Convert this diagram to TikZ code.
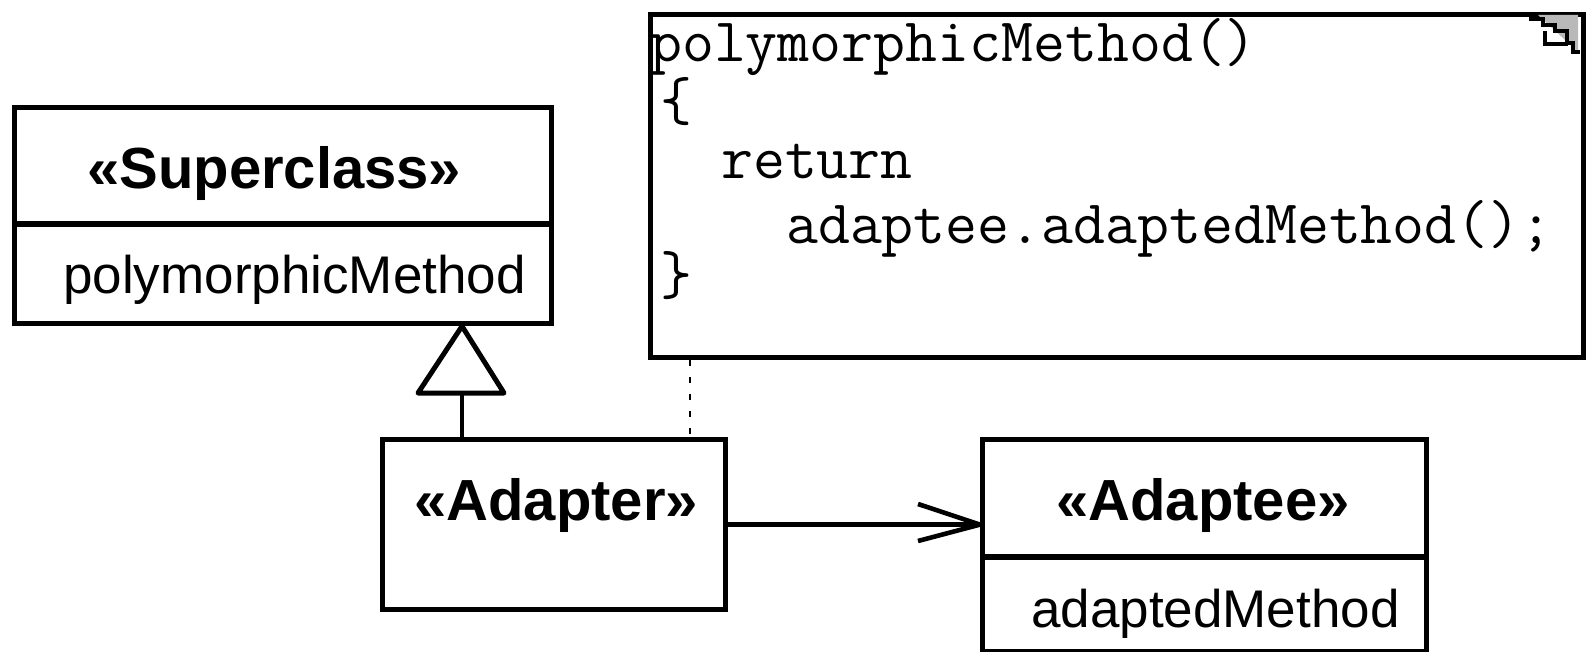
\documentclass[tikz,border=0pt]{standalone}
\usepackage{fontspec}
\setmainfont{Liberation Sans}
\begin{document}
\begin{tikzpicture}[x=1pt,y=-1pt,
  box/.style={draw, line width=5.2pt, rectangle, inner sep=0pt, anchor=north west},
  boldtxt/.style={font=\fontsize{58}{60}\selectfont\bfseries, anchor=base west, inner sep=0pt},
  regtxt/.style={font=\fontsize{53}{56}\selectfont, anchor=base west, inner sep=0pt},
  codetxt/.style={font=\fontsize{62}{64}\selectfont\ttfamily, anchor=base west, inner sep=0pt},
  ln/.style={line width=4.6pt},
  dashln/.style={line width=1.2pt, dash pattern=on 6pt off 11pt}]
\useasboundingbox (0,0) rectangle (1591,652);

% class boxes
\node[box, minimum width=537pt, minimum height=216pt] (sup) at (12,105) {};
\draw[line width=5.2pt] (12,224) -- (549,224);
\node[box, minimum width=343pt, minimum height=170pt] (adapter) at (380,437) {};
\node[box, minimum width=444pt, minimum height=212pt] (adaptee) at (980,437) {};
\draw[line width=5.2pt] (980,557) -- (1424,557);

% note
\node[box, minimum width=933pt, minimum height=343pt] (note) at (648,12) {};
\fill[gray!55] (1538,15) -- (1578,15) -- (1578,52) -- cycle;
\draw[line width=4.5pt, line join=miter]
  (1531,12) -- (1531,19) -- (1543,19) -- (1543,25) -- (1555,25) -- (1555,31)
  -- (1567,31) -- (1567,43) -- (1573,43) -- (1573,52) -- (1580,52);
\draw[line width=4.5pt] (1545,31) -- (1545,44) -- (1568,44);

% texts
\node[boldtxt] (supt) at (87,189) {«Superclass»};
\node[regtxt] (supm) at (63,294) {polymorphicMethod};
\node[boldtxt] (adt) at (414,520) {«Adapter»};
\node[boldtxt] (adeet) at (1056,520) {«Adaptee»};
\node[regtxt] (adeem) at (1031,627) {adaptedMethod};

\node[codetxt] (c1) at (650,62) {polymorphicMethod()};
\node[codetxt] (c2) at (660,121) {\{};
\node[codetxt] (c3) at (721,179) {return};
\node[codetxt] (c4) at (786,244) {adaptee.adaptedMethod();};
\node[codetxt] (c5) at (660,295) {\}};

% generalization
\coordinate (apex) at (sup.south -| 462,0);
\coordinate (tb) at (462,393);
\draw[line width=5pt, line join=round, fill=white] (apex) -- (504,393) -- (418,393) -- cycle;
\draw[ln] (tb) -- (tb |- adapter.north);

% note anchor
\coordinate (na) at (note.south -| 690,0);
\draw[dashln] (na) -- (na |- adapter.north);

% association
\coordinate (tip) at (adapter.east -| adaptee.west);
\draw[ln] (adapter.east) -- (tip);
\draw[ln, line join=round] (918,504) -- (tip) -- (918,541);
\end{tikzpicture}
\end{document}
